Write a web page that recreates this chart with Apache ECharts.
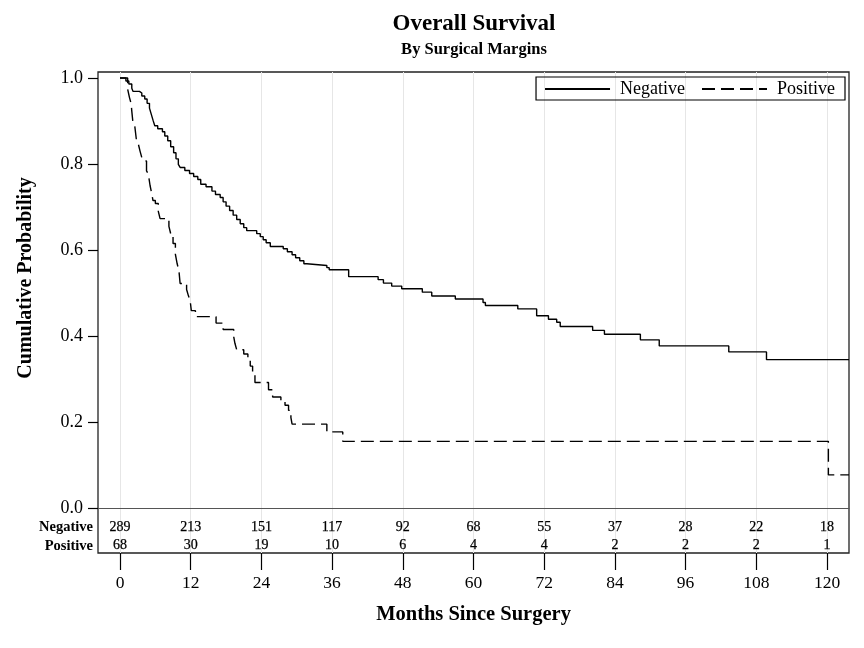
<!DOCTYPE html>
<html>
<head>
<meta charset="utf-8">
<script src="https://cdn.jsdelivr.net/npm/echarts@6/dist/echarts.min.js"></script>
<style>
html,body{margin:0;padding:0;background:#fff;}
#c{width:864px;height:648px;}
</style>
</head>
<body>
<div id="c"></div>
<script>
// Kaplan-Meier estimates: [month, survival probability]
var negativeCurve = [[0,1.0],[1.0,0.993],[1.5,0.986],[2.0,0.976],[2.2,0.969],[3.3,0.965],[3.7,0.958],[4.2,0.951],[4.6,0.941],[5.0,0.930],[5.3,0.916],[5.6,0.902],[5.9,0.889],[6.4,0.882],[7.2,0.875],[7.6,0.865],[8.1,0.854],[8.6,0.840],[9.1,0.826],[9.5,0.812],[9.9,0.799],[10.2,0.792],[11.0,0.785],[11.8,0.778],[12.5,0.771],[13.2,0.764],[13.7,0.753],[14.6,0.747],[15.6,0.737],[16.2,0.729],[17.0,0.722],[17.5,0.712],[18.0,0.702],[18.6,0.692],[19.2,0.681],[19.8,0.671],[20.4,0.661],[21.0,0.652],[21.5,0.645],[23.2,0.638],[23.8,0.631],[24.3,0.624],[24.8,0.617],[25.5,0.608],[27.7,0.603],[28.4,0.596],[29.2,0.589],[29.8,0.582],[30.5,0.575],[31.2,0.568],[31.7,0.564],[35.1,0.559],[35.5,0.554],[38.8,0.538],[43.8,0.531],[44.7,0.523],[46.1,0.516],[47.8,0.510],[51.3,0.502],[52.9,0.493],[56.9,0.486],[61.6,0.478],[62.0,0.471],[67.5,0.463],[70.7,0.447],[72.7,0.439],[74.1,0.432],[74.7,0.422],[80.2,0.413],[82.2,0.404],[88.3,0.391],[91.5,0.377],[103.3,0.363],[109.7,0.345],[123.7,0.345]];
var positiveCurve = [[0,1.0],[1.3,0.974],[1.6,0.955],[1.9,0.940],[2.0,0.923],[2.2,0.896],[2.5,0.889],[2.8,0.854],[3.1,0.847],[3.4,0.830],[3.7,0.815],[4.0,0.807],[4.5,0.784],[4.8,0.777],[5.1,0.750],[5.4,0.730],[5.6,0.715],[6.0,0.708],[6.5,0.690],[6.8,0.673],[8.3,0.655],[8.6,0.638],[9.0,0.615],[9.4,0.590],[9.7,0.568],[10.0,0.552],[10.2,0.522],[11.3,0.508],[11.6,0.494],[11.9,0.483],[12.1,0.459],[12.8,0.445],[16.3,0.430],[17.5,0.415],[19.3,0.398],[19.5,0.383],[19.8,0.368],[21.0,0.358],[21.7,0.348],[22.1,0.330],[22.5,0.311],[22.9,0.292],[25.2,0.275],[25.9,0.258],[27.3,0.248],[28.0,0.239],[28.6,0.227],[29.0,0.210],[29.2,0.195],[35.1,0.177],[37.8,0.155],[120.2,0.077],[123.7,0.077]];

// Number at risk table
var riskTimes = [0,12,24,36,48,60,72,84,96,108,120];
var riskGroups = ['Negative','Positive'];
var negativeAtRisk = [289,213,151,117,92,68,55,37,28,22,18];
var positiveAtRisk = [68,30,19,10,6,4,4,2,2,2,1];

// axis extents
var xTickMin = 0, xTickMax = 120, xTickStep = 12, xDataMax = 123.7;
var yMin = 0, yMax = 1, yStep = 0.2;

var FONT = "'Liberation Serif','DejaVu Serif',serif";

function riskData(group, counts){
  return riskTimes.map(function(t,i){ return [t, group, counts[i]]; });
}

var riskLabel = {show:true, position:[0.5,0.5], align:'center', verticalAlign:'middle',
  fontFamily:FONT, fontSize:14, fontWeight:'normal', color:'#000',
  textBorderColor:'#000', textBorderWidth:0.25,
  formatter:function(p){return String(p.data[2]);}};

var chart = echarts.init(document.getElementById('c'), null, {renderer:'canvas'});
var option = {
  backgroundColor:'#fff',
  animation:false,
  textStyle:{fontFamily:FONT, color:'#000'},
  title:{
    text:'Overall Survival',
    subtext:'By Surgical Margins',
    left:474, top:13, padding:0, itemGap:5,
    textAlign:'center',
    textStyle:{fontFamily:FONT, fontSize:23, fontWeight:'bold', color:'#000'},
    subtextStyle:{fontFamily:FONT, fontSize:16.5, fontWeight:'bold', color:'#000'}
  },
  legend:{
    data:['Negative','Positive'],
    right:19, top:77,
    padding:[3,10,2,8],
    itemWidth:65, itemHeight:14, itemGap:16,
    borderColor:'#000', borderWidth:1.2,
    itemStyle:{opacity:0},
    textStyle:{fontFamily:FONT, fontSize:18, color:'#000', padding:[0,0,0,5]}
  },
  grid:[
    {left:120, right:15, top:78, bottom:140},            // 0 curves
    {left:120, right:37, top:72, bottom:95},             // 1 main x axis + vertical grid lines
    {left:98, right:15, top:78, bottom:140},             // 2 y axis + zero line
    {left:120, right:37, top:518, height:37},            // 3 at-risk table
    {left:98, right:15, top:72, bottom:95, show:true, borderColor:'#222', borderWidth:1.3, backgroundColor:'transparent'} // 4 frame
  ],
  xAxis:[
    {gridIndex:0, type:'value', min:xTickMin, max:xDataMax, show:false},
    {gridIndex:1, type:'value', min:xTickMin, max:xTickMax, interval:xTickStep, position:'bottom',
     axisLine:{show:false, onZero:false},
     axisTick:{show:true, length:17, lineStyle:{color:'#000', width:1.2}},
     axisLabel:{margin:21, fontSize:17.5, fontFamily:FONT, color:'#000'},
     splitLine:{show:true, lineStyle:{color:'#e6e6e6', width:1}},
     name:'Months Since Surgery', nameLocation:'middle', nameGap:51,
     nameTextStyle:{fontFamily:FONT, fontSize:20.5, fontWeight:'bold', color:'#000'}},
    {gridIndex:2, type:'value', min:0, max:1, position:'bottom',
     axisLine:{show:true, onZero:false, lineStyle:{color:'#555', width:1.2}},
     axisTick:{show:false}, axisLabel:{show:false}, splitLine:{show:false}},
    {gridIndex:3, type:'value', min:xTickMin, max:xTickMax, show:false},
    {gridIndex:4, type:'value', min:0, max:1, show:false}
  ],
  yAxis:[
    {gridIndex:0, type:'value', min:yMin, max:yMax, show:false},
    {gridIndex:1, type:'value', min:0, max:1, show:false},
    {gridIndex:2, type:'value', min:yMin, max:yMax, interval:yStep,
     axisLine:{show:false},
     axisTick:{show:true, length:10, lineStyle:{color:'#000', width:1.2}},
     axisLabel:{margin:15, fontSize:18, fontFamily:FONT, color:'#000', formatter:function(v){return v.toFixed(1);}},
     splitLine:{show:false},
     name:'Cumulative Probability', nameLocation:'middle', nameGap:62, nameRotate:90,
     nameTextStyle:{fontFamily:FONT, fontSize:20, fontWeight:'bold', color:'#000', padding:[0,0,0,30]}},
    {gridIndex:3, type:'category', data:riskGroups, inverse:true, offset:22,
     axisLine:{show:false}, axisTick:{show:false}, splitLine:{show:false},
     axisLabel:{interval:0, hideOverlap:false, margin:5, fontSize:14.5, fontWeight:'bold', fontFamily:FONT, color:'#000'}},
    {gridIndex:4, type:'value', min:0, max:1, show:false}
  ],
  series:[
    {name:'Negative', type:'line', xAxisIndex:0, yAxisIndex:0, step:'end', data:negativeCurve,
     symbol:'none', showSymbol:false, clip:false, silent:true,
     lineStyle:{color:'#000', width:1.4, type:'solid'}, itemStyle:{color:'#000'}},
    {name:'Positive', type:'line', xAxisIndex:0, yAxisIndex:0, step:'end', data:positiveCurve,
     symbol:'none', showSymbol:false, clip:false, silent:true,
     lineStyle:{color:'#000', width:1.4, type:[13,6]}, itemStyle:{color:'#000'}},
    {name:'Negative at risk', type:'scatter', xAxisIndex:3, yAxisIndex:3, data:riskData('Negative', negativeAtRisk),
     symbolSize:1, itemStyle:{color:'#fff', opacity:1}, silent:true, z:5,
     label:riskLabel},
    {name:'Positive at risk', type:'scatter', xAxisIndex:3, yAxisIndex:3, data:riskData('Positive', positiveAtRisk),
     symbolSize:1, itemStyle:{color:'#fff', opacity:1}, silent:true, z:5,
     label:riskLabel}
  ]
};
chart.setOption(option);
</script>
</body>
</html>
